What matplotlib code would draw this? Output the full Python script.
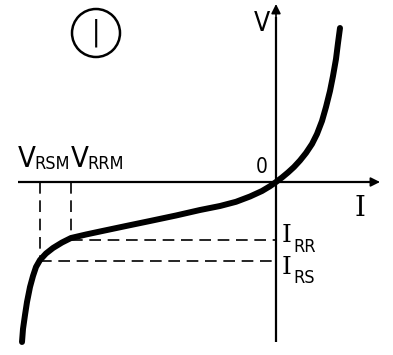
"""
Diode reverse/forward characteristic sketch with V_RSM / V_RRM markers.
"""

import matplotlib.pyplot as plt
from matplotlib.patches import Circle

# characteristic curve (I to the right, V up, origin at axis crossing)
curve_i = [-254, -253, -251, -249, -246, -243, -240, -236, -230, -223, -214, -205,
           -190, -176, -150, -126, -100, -76, -56, -40, -26, -14, -6, 0,
           6, 12, 18, 24, 30, 36, 41, 46, 50, 54, 57, 60, 62, 64]
curve_v = [-160, -147, -133, -120, -105, -94, -85, -78, -71.5, -66, -60.5, -56,
           -52.5, -49.5, -44, -39, -33.5, -28, -24, -19.8, -14.5, -9, -4.2, 0,
           4.5, 9.5, 15, 21.5, 29, 38, 48, 61, 75, 91, 106, 123, 139, 154]

# marker points on the knee
v_rsm_i, i_rs_v = -236, -79
v_rrm_i, i_rr_v = -205, -58

x_range = (-276, 117)
y_range = (-173, 182)

fig = plt.figure(figsize=(3.93, 3.55), dpi=100)
ax = fig.add_axes([0, 0, 1, 1])
ax.set_xlim(*x_range)
ax.set_ylim(*y_range)
ax.axis("off")

# axes with arrows
ax.plot([-258, 100], [0, 0], color="black", lw=1.6, solid_capstyle="butt")
ax.annotate("", xy=(104, 0), xytext=(88, 0),
            arrowprops=dict(arrowstyle="-|>", color="black", lw=1.2,
                            mutation_scale=14, shrinkA=0, shrinkB=0))
ax.plot([0, 0], [-160, 165], color="black", lw=1.6, solid_capstyle="butt")
ax.annotate("", xy=(0, 178), xytext=(0, 160),
            arrowprops=dict(arrowstyle="-|>", color="black", lw=1.2,
                            mutation_scale=14, shrinkA=0, shrinkB=0))

# dashed guide lines
dash = dict(color="black", lw=1.2, dashes=(7, 4))
ax.plot([v_rsm_i, v_rsm_i], [0, i_rs_v], **dash)
ax.plot([v_rrm_i, v_rrm_i], [0, i_rr_v], **dash)
ax.plot([v_rsm_i, 0], [i_rs_v, i_rs_v], **dash)
ax.plot([v_rrm_i, 0], [i_rr_v, i_rr_v], **dash)

# the curve
ax.plot(curve_i, curve_v, color="black", lw=4.3, solid_capstyle="round",
        solid_joinstyle="round")

# labels
font = dict(family="DejaVu Sans", stretch="condensed", color="black")
serif = dict(family="DejaVu Serif", color="black")
ax.text(-258, 9, "V", fontsize=21, ha="left", va="bottom", **font)
ax.text(-242, 9, "RSM", fontsize=13, ha="left", va="bottom", **font)
ax.text(-205, 9, "V", fontsize=21, ha="left", va="bottom", **font)
ax.text(-189, 9, "RRM", fontsize=13, ha="left", va="bottom", **font)
ax.text(-8, 5, "0", fontsize=15, ha="right", va="bottom", **font)
ax.text(-6, 158, "V", fontsize=19, ha="right", va="center", **font)
ax.text(84, -27, "I", fontsize=20, ha="center", va="center", **serif)
ax.text(6, -54, "I", fontsize=18, ha="left", va="center", **serif)
ax.text(17, -65, "RR", fontsize=13, ha="left", va="center", **font)
ax.text(6, -85, "I", fontsize=18, ha="left", va="center", **serif)
ax.text(17, -96, "RS", fontsize=13, ha="left", va="center", **font)

# circled panel number
ax.add_patch(Circle((-180, 149), 24, fill=False, color="black", lw=1.8))
ax.text(-180, 149, "|", fontsize=20, ha="center", va="center", **font)

plt.savefig("out.png", dpi=100)
plt.close(fig)
